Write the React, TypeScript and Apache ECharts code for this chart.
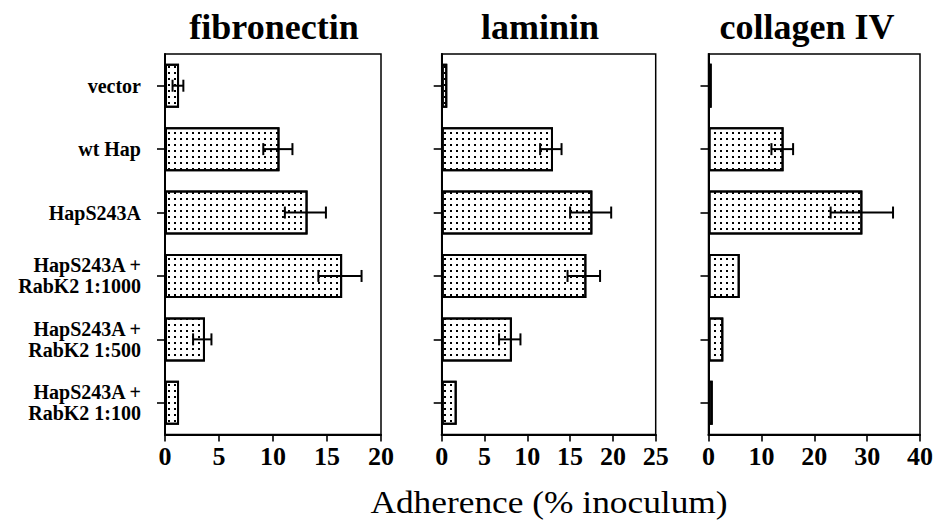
import React, { useEffect, useRef } from 'react';
import * as echarts from 'echarts';

const categories = [
  'vector',
  'wt Hap',
  'HapS243A',
  'HapS243A +\nRabK2 1:1000',
  'HapS243A +\nRabK2 1:500',
  'HapS243A +\nRabK2 1:100',
];
const panelTitles = ['fibronectin', 'laminin', 'collagen IV'];
const fibronectinMean = [1.3, 10.6, 13.2, 16.4, 3.7, 1.3];
const fibronectinLow = [0.7, 9.1, 11.1, 14.2, 2.6, null];
const fibronectinHigh = [1.7, 11.8, 14.9, 18.2, 4.3, null];
const lamininMean = [0.65, 13.0, 17.6, 16.9, 8.2, 1.75];
const lamininLow = [null, 11.5, 15.0, 14.7, 6.7, null];
const lamininHigh = [null, 14.0, 19.8, 18.5, 9.2, null];
const collagenMean = [0.6, 14.2, 29.1, 5.9, 2.8, 0.8];
const collagenLow = [null, 11.9, 23.1, null, null, null];
const collagenHigh = [null, 16.0, 34.9, null, null, null];
const xMax = [20, 25, 40];
const xInterval = [5, 5, 10];
const axisTitle = 'Adherence (% inoculum)';

const SERIF = '"Liberation Serif", "Times New Roman", serif';

export default function App() {
  const ref = useRef<HTMLDivElement>(null);
  useEffect(() => {
    if (!ref.current) return;
    const chart = echarts.init(ref.current, undefined, { renderer: 'svg' });
    const means = [fibronectinMean, lamininMean, collagenMean];
    const lows = [fibronectinLow, lamininLow, collagenLow];
    const highs = [fibronectinHigh, lamininHigh, collagenHigh];
    const gridLefts = [165, 441.7, 708.5];
    const gridWidths = [216, 214, 215.5];
    const titleX = [274, 540, 807];
    const top = 54;
    const height = 380.5;

    const grids = gridLefts.map((l, i) => ({
      left: l,
      top,
      width: gridWidths[i],
      height,
      show: true,
      borderColor: '#000',
      borderWidth: 1.5,
      backgroundColor: 'transparent',
    }));
    const xAxes = xMax.map((m, i) => ({
      type: 'value',
      gridIndex: i,
      min: 0,
      max: m,
      interval: xInterval[i],
      splitLine: { show: false },
      axisLine: { show: true, lineStyle: { color: '#000', width: 2.2 } },
      axisTick: { show: true, length: 7, lineStyle: { color: '#000', width: 1.6 } },
      axisLabel: {
        color: '#000',
        fontFamily: SERIF,
        fontWeight: 'bold',
        fontSize: 26,
        margin: 9,
      },
    }));
    const yAxes = xMax.map((_, i) => ({
      type: 'category',
      gridIndex: i,
      data: categories,
      inverse: true,
      axisLine: { show: true, lineStyle: { color: '#000', width: 2 } },
      axisTick: { show: true, alignWithLabel: true, length: 8, lineStyle: { color: '#000', width: 1.6 } },
      axisLabel: {
        show: i === 0,
        color: '#000',
        fontFamily: SERIF,
        fontWeight: 'bold',
        fontSize: 20,
        lineHeight: 21,
        align: 'right',
        margin: 24,
      },
    }));

    const series: any[] = [];
    means.forEach((vals, i) => {
      series.push({
        type: 'bar',
        xAxisIndex: i,
        yAxisIndex: i,
        data: vals,
        barWidth: 44,
        itemStyle: {
          color: '#fff',
          borderColor: '#000',
          borderWidth: 2,
          decal: {
            symbol: 'rect',
            symbolSize: 1,
            color: '#000',
            backgroundColor: '#fff',
            dashArrayX: [1.4, 3.1],
            dashArrayY: [1.4, 3.3],
            rotation: 0,
          },
        },
        emphasis: { disabled: true },
        z: 2,
      });
      const errData: any[] = [];
      vals.forEach((_, k) => {
        const lo = lows[i][k];
        const hi = highs[i][k];
        if (lo != null && hi != null) errData.push([k, lo, hi]);
      });
      series.push({
        type: 'custom',
        xAxisIndex: i,
        yAxisIndex: i,
        data: errData,
        encode: { x: [1, 2], y: 0 },
        z: 5,
        renderItem: (params: any, api: any) => {
          const idx = api.value(0);
          const lo = api.coord([api.value(1), idx]);
          const hi = api.coord([api.value(2), idx]);
          const h = 6;
          const style = { stroke: '#000', lineWidth: 2, fill: 'none' };
          return {
            type: 'group',
            children: [
              { type: 'line', shape: { x1: lo[0], y1: lo[1], x2: hi[0], y2: hi[1] }, style },
              { type: 'line', shape: { x1: lo[0], y1: lo[1] - h, x2: lo[0], y2: lo[1] + h }, style },
              { type: 'line', shape: { x1: hi[0], y1: hi[1] - h, x2: hi[0], y2: hi[1] + h }, style },
            ],
          };
        },
      });
    });

    const graphic: any[] = panelTitles.map((t, i) => ({
      type: 'text',
      x: titleX[i],
      y: 27,
      style: {
        text: t,
        fontFamily: SERIF,
        fontWeight: 'bold',
        fontSize: 36,
        fill: '#000',
        textAlign: 'center',
        textVerticalAlign: 'middle',
        align: 'center',
        verticalAlign: 'middle',
      },
    }));
    graphic.push({
      type: 'text',
      x: 549,
      y: 502,
      scaleX: 1.14,
      style: {
        text: axisTitle,
        fontFamily: SERIF,
        fontSize: 31,
        fill: '#000',
        textAlign: 'center',
        textVerticalAlign: 'middle',
        align: 'center',
        verticalAlign: 'middle',
      },
    });

    chart.setOption({
      animation: false,
      backgroundColor: '#fff',
      grid: grids,
      xAxis: xAxes,
      yAxis: yAxes,
      series,
      graphic,
    } as any);
    return () => chart.dispose();
  }, []);
  return (
    <div
      ref={ref}
      style={{ position: 'fixed', left: 0, top: 0, width: 936, height: 521 }}
    />
  );
}
